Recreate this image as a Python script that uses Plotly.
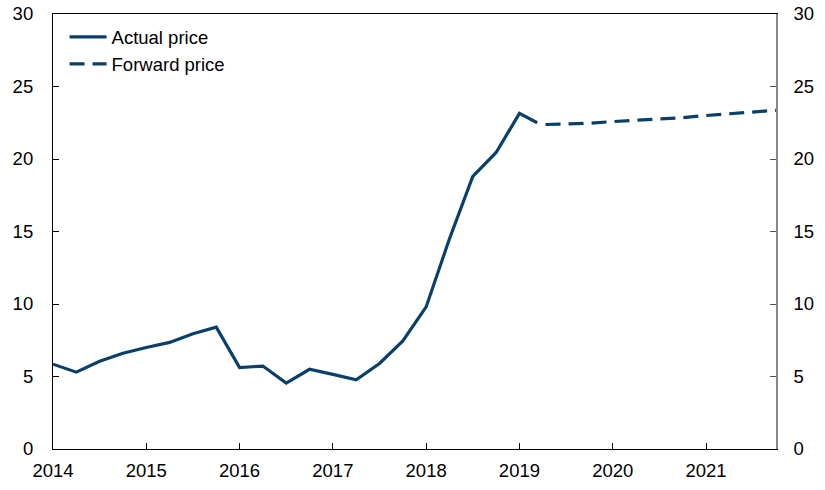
import plotly.graph_objects as go

# Actual price (decimal years)
actual_x = [2014.0, 2014.25, 2014.5, 2014.75, 2015.0, 2015.25, 2015.5, 2015.75,
            2016.0, 2016.25, 2016.5, 2016.75, 2017.0, 2017.25, 2017.5, 2017.75,
            2018.0, 2018.25, 2018.5, 2018.75, 2019.0, 2019.19]
actual_y = [5.85, 5.3, 6.05, 6.6, 7.0, 7.35, 7.95, 8.4,
            5.62, 5.72, 4.55, 5.5, 5.15, 4.78, 5.9, 7.45,
            9.8, 14.5, 18.8, 20.45, 23.15, 22.5]

# Forward price
forward_x = [2019.28, 2019.5, 2019.75, 2020.0, 2020.25, 2020.5, 2020.75,
             2021.0, 2021.25, 2021.5, 2021.75]
forward_y = [22.38, 22.42, 22.47, 22.58, 22.67, 22.75, 22.85,
             23.0, 23.13, 23.22, 23.36]

year_ticks = [2014, 2015, 2016, 2017, 2018, 2019, 2020, 2021]
y_ticks = [0, 5, 10, 15, 20, 25, 30]

color = "#0a3f6a"
font_family = "Liberation Sans, Arial, sans-serif"

fig = go.Figure()
fig.add_trace(go.Scatter(x=actual_x, y=actual_y, mode="lines", name="Actual price",
                         line=dict(color=color, width=3.2)))
fig.add_trace(go.Scatter(x=forward_x, y=forward_y, mode="lines", name="Forward price",
                         line=dict(color=color, width=3.2, dash="15px,8px")))
# invisible trace for right axis
fig.add_trace(go.Scatter(x=[year_ticks[0]], y=[y_ticks[0]], yaxis="y2", mode="markers",
                         marker=dict(opacity=0), showlegend=False, hoverinfo="skip"))

fig.update_layout(
    width=825, height=490,
    margin=dict(l=53, r=49, t=14, b=41),
    plot_bgcolor="white", paper_bgcolor="white",
    font=dict(family=font_family, size=18.5, color="black"),
    showlegend=True,
    legend=dict(x=0.016, y=0.99, xanchor="left", yanchor="top",
                bgcolor="rgba(0,0,0,0)", font=dict(size=18.5), tracegroupgap=0,
                itemwidth=37),
    xaxis=dict(range=[2014, 2021.75], tickvals=year_ticks,
               ticktext=[str(v) for v in year_ticks], automargin=False,
               showgrid=False, zeroline=False, showline=True, linecolor="black",
               linewidth=1.2, mirror=True, ticks="inside", ticklen=6,
               tickcolor="black", ticklabelstandoff=5),
    yaxis=dict(range=[0, 30], tickvals=y_ticks, showgrid=False, zeroline=False,
               automargin=False, ticklabeloverflow="allow",
               showline=True, linecolor="black", linewidth=1.2, ticks="inside",
               ticklen=6, tickcolor="black", ticklabelstandoff=15),
    yaxis2=dict(range=[0, 30], tickvals=y_ticks, overlaying="y", side="right",
                automargin=False, ticklabeloverflow="allow",
                showgrid=False, zeroline=False, showline=True, linecolor="#888888",
                linewidth=1.5, ticks="inside", ticklen=6, tickcolor="#555555",
                ticklabelstandoff=12),
)

fig.write_html("out.html", config={"displayModeBar": False},
               post_script="document.body.style.margin='0';")
